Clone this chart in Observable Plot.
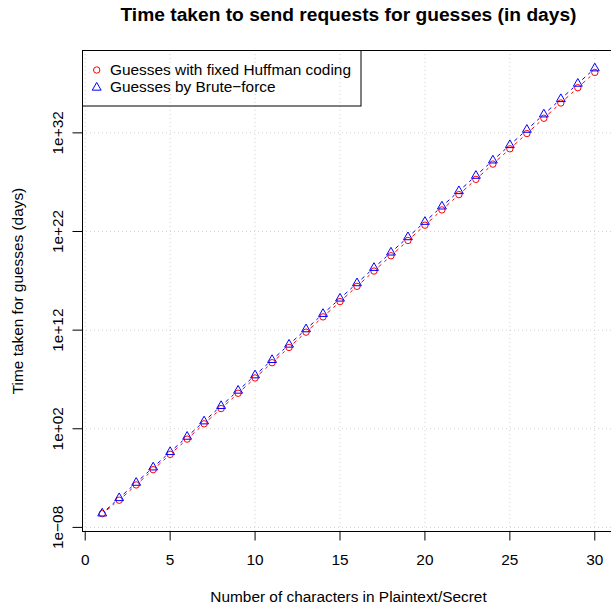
<!DOCTYPE html>
<html><head><meta charset="utf-8">
<script src="https://cdn.jsdelivr.net/npm/d3@7"></script>
<script src="https://cdn.jsdelivr.net/npm/@observablehq/plot@0.6"></script>
<style>
html,body{margin:0;padding:0;background:#fff;overflow:hidden;}
#chart{width:611px;height:609px;overflow:hidden;position:relative;}
</style></head><body><div id="chart"></div>
<script>
// ---- data ----
const chars = [1,2,3,4,5,6,7,8,9,10,11,12,13,14,15,16,17,18,19,20,21,22,23,24,25,26,27,28,29,30];
const huffman = [2.45e-7,5.70e-6,2.02e-4,7.14e-3,0.253,8.95,317,1.12e4,3.97e5,1.41e7,4.98e8,1.76e10,6.24e11,2.21e13,7.82e14,2.77e16,9.79e17,3.47e19,1.23e21,4.35e22,1.54e24,5.45e25,1.93e27,6.82e28,2.42e30,8.55e31,3.03e33,1.07e35,3.79e36,1.34e38];
const brute = [2.63e-7,9.46e-6,3.40e-4,1.22e-2,0.441,15.8,570,2.05e4,7.38e5,2.65e7,9.55e8,3.44e10,1.24e12,4.45e13,1.60e15,5.75e16,2.07e18,7.45e19,2.68e21,9.64e22,3.47e24,1.25e26,4.49e27,1.61e29,5.81e30,2.09e32,7.52e33,2.70e35,9.73e36,3.50e38];
const xTicks = [0,5,10,15,20,25,30];
const yTicks = [1e-8,1e2,1e12,1e22,1e32];
const yTickLabels = ["1e\u221208","1e+02","1e+12","1e+22","1e+32"];
const xDomain = [-0.16, 31.16];
const yDomain = [3.84e-9, 2.24e40];
const seriesNames = ["Guesses with fixed Huffman coding","Guesses by Brute\u2212force"];
const seriesColors = ["#FF0000","#0000FF"];
const titleText = "Time taken to send requests for guesses (in days)";
const xLabel = "Number of characters in Plaintext/Secret";
const yLabel = "Time taken for guesses (days)";

const FONT = "'Liberation Sans', Arial, Helvetica, sans-serif";

function pairsOf(vals){
  return d3.pairs(chars.map((c,i)=>({x:c, y:vals[i]})));
}
function seriesMarks(vals, color, symbol, r){
  return [
    Plot.arrow(pairsOf(vals), {
      x1: p=>p[0].x, y1: p=>p[0].y, x2: p=>p[1].x, y2: p=>p[1].y,
      bend: 0, headLength: 0, insetStart: 6, insetEnd: 6,
      stroke: color, strokeWidth: 1, strokeDasharray: "4,4", strokeLinecap: "butt"
    }),
    Plot.dot(chars, {x: chars, y: vals, symbol: symbol, r: r, stroke: color, fill: "none", strokeWidth: 1})
  ];
}

function legendMark(){
  const g = d3.create("svg:g").attr("text-anchor", "start");
  g.append("rect").attr("x", 82.5).attr("y", 50.5).attr("width", 278.5).attr("height", 55.5)
    .attr("fill", "none").attr("stroke", "black");
  const rows = [75, 92.3];
  const symY = [70, 87.6];
  g.append("path").attr("d", d3.symbol(d3.symbolCircle, Math.PI*3.2*3.2)())
    .attr("transform", `translate(96.7,${symY[0]})`).attr("fill","none").attr("stroke", seriesColors[0]);
  g.append("path").attr("d", d3.symbol(d3.symbolTriangle, Math.PI*3.3*3.3)())
    .attr("transform", `translate(96.7,${symY[1]})`).attr("fill","none").attr("stroke", seriesColors[1]);
  seriesNames.forEach((s,i)=>{
    g.append("text").attr("x", 110).attr("y", rows[i]).attr("font-size", "15.4px")
      .attr("text-anchor", "start")
      .attr("font-family", FONT).attr("fill","black").text(s);
  });
  return g.node();
}

const chart = Plot.plot({
  width: 611, height: 609,
  marginLeft: 82, marginRight: -3, marginTop: 50, marginBottom: 78,
  style: {fontFamily: FONT, fontSize: "15.4px", background: "white", color: "black"},
  x: {domain: xDomain},
  y: {type: "log", domain: yDomain},
  marks: [
    Plot.ruleX(xTicks, {x: d=>d, stroke: "#D3D3D3", strokeDasharray: "1,3"}),
    Plot.ruleY(yTicks, {y: d=>d, stroke: "#D3D3D3", strokeDasharray: "1,3"}),
    // plot box (left, top, bottom; right side lies beyond the canvas)
    Plot.ruleX([xDomain[0]], {x: d=>d, stroke: "black"}),
    Plot.ruleY(yDomain, {y: d=>d, stroke: "black"}),
    Plot.axisX({ticks: xTicks, tickSize: 9.5, tickPadding: 13.5, tickFormat: d=>String(d), label: null, fontSize: "15.4px"}),
    Plot.axisY({ticks: yTicks, tickSize: 9.5, tickFormat: () => "", label: null}),
    Plot.text(yTicks, {y: d=>d, text: (d,i)=>yTickLabels[i], frameAnchor: "left", dx: -20, rotate: -90, textAnchor: "middle", lineAnchor: "bottom", fontSize: "15.4px"}),
    Plot.text([xLabel], {text: d=>d, frameAnchor: "bottom", dy: 70, lineAnchor: "bottom", fontSize: "15.4px"}),
    Plot.text([yLabel], {text: d=>d, frameAnchor: "left", dx: -60, rotate: -90, textAnchor: "middle", lineAnchor: "bottom", fontSize: "15.4px"}),
    Plot.text([titleText], {text: d=>d, frameAnchor: "top", dy: -29.5, lineAnchor: "bottom", fontWeight: "bold", fontSize: "19.2px"}),
    ...seriesMarks(huffman, seriesColors[0], "circle", 3.2),
    ...seriesMarks(brute, seriesColors[1], "triangle", 3.3),
    legendMark
  ]
});
document.getElementById("chart").appendChild(chart);
</script></body></html>
